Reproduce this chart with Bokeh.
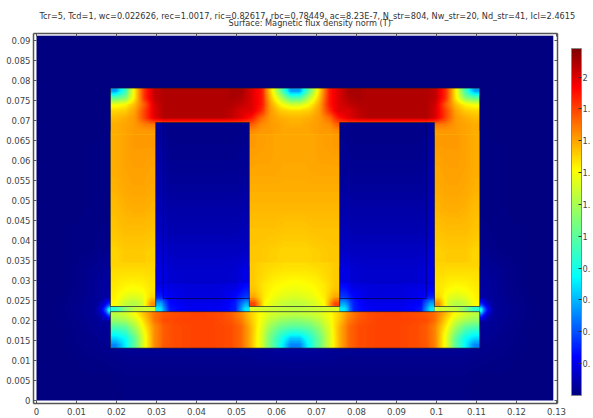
import numpy as np
from bokeh.plotting import figure
from bokeh.models import LinearAxis, FixedTicker, LinearColorMapper, ColorBar, Title, CustomLabelingPolicy
from bokeh.embed import file_html
from bokeh.resources import INLINE

title_1 = "Tcr=5, Tcd=1, wc=0.022626, rec=1.0017, ric=0.82617, rbc=0.78449, ac=8.23E-7, N_str=804, Nw_str=20, Nd_str=41, Icl=2.4615"
title_2 = "Surface: Magnetic flux density norm (T)"

x_ticks = [0, 0.01, 0.02, 0.03, 0.04, 0.05, 0.06, 0.07, 0.08, 0.09, 0.1, 0.11, 0.12, 0.13]
x_tick_labels = ["0", "0.01", "0.02", "0.03", "0.04", "0.05", "0.06", "0.07", "0.08", "0.09", "0.1", "0.11", "0.12", "0.13"]
y_ticks = [0, 0.005, 0.01, 0.015, 0.02, 0.025, 0.03, 0.035, 0.04, 0.045, 0.05, 0.055, 0.06, 0.065, 0.07, 0.075, 0.08, 0.085, 0.09]
y_tick_labels = ["0", "0.005", "0.01", "0.015", "0.02", "0.025", "0.03", "0.035", "0.04", "0.045", "0.05", "0.055", "0.06", "0.065", "0.07", "0.075", "0.08", "0.085", "0.09"]
cb_ticks = [0.2, 0.4, 0.6, 0.8, 1.0, 1.2, 1.4, 1.6, 1.8, 2.0]
cb_labels = ["0.", "0.", "0.", "0.", "1", "1.", "1.", "1.", "1.", "2"]
B_max = 2.18

# core geometry (metres)
core_left, core_right = 0.0185, 0.1108
core_top, core_bottom = 0.0781, 0.0131
window_top, leg_bottom, yoke_top = 0.0695, 0.0235, 0.0222
leg_l_right, center_left, center_right, leg_r_left = 0.0298, 0.0532, 0.0758, 0.0995
coil_l, coil_r, coil_bottom = 0.0317, 0.0974, 0.0255
field_left, field_right, field_top, field_bottom = 0.0, 0.1292, 0.0912, 0.0

# flux density (T), left half of the core, top row first
top_yoke = [
    [.55, .90, 1.45, 1.85, 2.05, 2.08, 2.08, 2.08, 2.08, 2.08, 2.08, 2.08, 2.10, 2.10, 2.00, 1.90, 1.50, 1.05, .55],
    [1.00, 1.10, 1.45, 1.85, 2.05, 2.08, 2.08, 2.08, 2.08, 2.08, 2.08, 2.08, 2.10, 2.08, 2.00, 1.90, 1.55, 1.25, .95],
    [1.38, 1.42, 1.55, 1.75, 2.02, 2.08, 2.08, 2.08, 2.08, 2.08, 2.08, 2.08, 2.08, 2.05, 2.00, 1.90, 1.60, 1.42, 1.30],
    [1.50, 1.52, 1.60, 1.80, 2.00, 2.08, 2.08, 2.08, 2.08, 2.08, 2.08, 2.08, 2.06, 2.00, 2.00, 1.85, 1.62, 1.52, 1.50],
    [1.55, 1.58, 1.62, 1.80, 2.00, 2.08, 2.08, 2.08, 2.08, 2.08, 2.08, 2.08, 2.05, 2.00, 1.90, 1.72, 1.62, 1.58, 1.56],
    [1.58, 1.60, 1.62, 1.68, 1.70, 1.70, 1.70, 1.70, 1.70, 1.70, 1.70, 1.70, 1.72, 1.74, 1.75, 1.65, 1.62, 1.60, 1.58],
    [1.58, 1.60, 1.62, 1.62, 1.62, 1.62, 1.62, 1.62, 1.62, 1.62, 1.62, 1.62, 1.62, 1.62, 1.65, 1.62, 1.62, 1.60, 1.60],
]
outer_leg_upper = [
    [1.58, 1.60, 1.62, 1.62, 1.62],
    [1.58, 1.60, 1.61, 1.61, 1.60],
    [1.57, 1.59, 1.60, 1.60, 1.59],
    [1.55, 1.57, 1.58, 1.58, 1.57],
    [1.53, 1.55, 1.55, 1.55, 1.54],
    [1.50, 1.52, 1.52, 1.52, 1.51],
]
outer_leg_lower = [
    [1.50, 1.50, 1.50, 1.50, 1.50],
    [1.48, 1.48, 1.48, 1.48, 1.49],
    [1.47, 1.46, 1.46, 1.46, 1.48],
    [1.46, 1.44, 1.43, 1.44, 1.47],
    [1.45, 1.41, 1.39, 1.41, 1.47],
    [1.44, 1.36, 1.32, 1.36, 1.50],
    [1.42, 1.28, 1.22, 1.30, 1.65],
]
center_leg_upper = [
    [1.62, 1.61, 1.60, 1.60, 1.60, 1.60, 1.60, 1.61, 1.62],
    [1.60, 1.60, 1.60, 1.59, 1.59, 1.59, 1.60, 1.60, 1.60],
    [1.58, 1.58, 1.58, 1.58, 1.58, 1.58, 1.58, 1.58, 1.58],
    [1.56, 1.56, 1.56, 1.56, 1.56, 1.56, 1.56, 1.56, 1.56],
    [1.54, 1.54, 1.54, 1.53, 1.53, 1.53, 1.54, 1.54, 1.54],
    [1.53, 1.52, 1.51, 1.50, 1.50, 1.50, 1.51, 1.52, 1.53],
]
center_leg_lower = [
    [1.52, 1.50, 1.49, 1.48, 1.48, 1.48, 1.49, 1.50, 1.52],
    [1.52, 1.49, 1.47, 1.46, 1.46, 1.46, 1.47, 1.49, 1.52],
    [1.52, 1.48, 1.45, 1.44, 1.43, 1.44, 1.45, 1.48, 1.52],
    [1.52, 1.46, 1.43, 1.41, 1.40, 1.41, 1.43, 1.46, 1.52],
    [1.54, 1.46, 1.41, 1.38, 1.37, 1.38, 1.41, 1.46, 1.54],
    [1.60, 1.45, 1.38, 1.34, 1.32, 1.34, 1.38, 1.45, 1.60],
    [1.80, 1.42, 1.32, 1.27, 1.25, 1.27, 1.32, 1.42, 1.80],
]
bottom_yoke = [
    [1.25, 1.30, 1.40, 1.55, 1.70, 1.76, 1.78, 1.79, 1.80, 1.80, 1.79, 1.78, 1.74, 1.65, 1.50, 1.40, 1.32, 1.28, 1.26],
    [1.15, 1.20, 1.30, 1.50, 1.70, 1.78, 1.79, 1.80, 1.80, 1.80, 1.80, 1.78, 1.76, 1.68, 1.52, 1.38, 1.25, 1.17, 1.13],
    [.98, 1.02, 1.20, 1.45, 1.65, 1.75, 1.78, 1.79, 1.80, 1.80, 1.80, 1.79, 1.78, 1.72, 1.55, 1.35, 1.17, 1.05, 1.00],
    [.80, .88, 1.10, 1.40, 1.65, 1.75, 1.78, 1.79, 1.80, 1.80, 1.80, 1.79, 1.78, 1.72, 1.55, 1.33, 1.10, .92, .82],
    [.65, .75, 1.00, 1.38, 1.65, 1.75, 1.78, 1.79, 1.80, 1.80, 1.80, 1.79, 1.78, 1.72, 1.55, 1.32, 1.05, .82, .62],
    [.50, .72, 1.00, 1.38, 1.65, 1.76, 1.78, 1.79, 1.80, 1.80, 1.80, 1.79, 1.78, 1.72, 1.55, 1.32, 1.05, .78, .50],
]
gap_left = [[.85, 1.10, 1.25, 1.28, 1.30]]
gap_center = [[1.32, 1.30, 1.28, 1.26, 1.25, 1.26, 1.28, 1.30, 1.32]]
window_upper = [
    [.06, .02, .02, .02, .02, .02, .02, .02, .02, .03],
    [.08, .03, .03, .03, .03, .03, .03, .03, .03, .04],
    [.09, .04, .04, .04, .04, .04, .04, .04, .04, .05],
    [.10, .06, .06, .06, .06, .06, .06, .06, .06, .07],
    [.12, .08, .08, .08, .08, .08, .08, .08, .08, .09],
    [.14, .10, .10, .10, .10, .10, .10, .10, .10, .11],
    [.17, .13, .13, .13, .13, .13, .13, .13, .13, .14],
    [.20, .16, .15, .15, .15, .15, .15, .15, .16, .20],
]
window_lower = [
    [.20, .18, .18, .17, .17, .17, .17, .18, .18, .25],
    [.25, .20, .20, .18, .18, .18, .18, .20, .22, .30],
    [.30, .22, .20, .18, .18, .18, .18, .20, .25, .35],
    [.55, .25, .22, .20, .20, .20, .20, .22, .30, .55],
    [.70, .28, .24, .22, .22, .22, .22, .24, .30, .70],
]
air_outside = [
    [0, 0, 0, 0, 0, 0, 0, 0, 0, 0, 0, 0, 0],
    [0, 0, 0, 0, 0, 0, 0, 0, 0, 0, 0, 0, 0],
    [0, 0, 0, 0, 0, 0, 0, 0, 0, 0, 0, 0, 0],
    [0, 0, 0, .01, .01, .01, .01, .01, .01, .01, .01, .01, .01],
    [0, 0, 0, .01, .01, .01, .01, .01, .01, .01, .01, .01, .01],
    [0, 0, .01, .01, .01, .01, .01, .01, .01, .01, .01, .01, .01],
    [0, 0, .01, .01, .01, .01, .01, .01, .01, .01, .01, .01, .01],
    [0, 0, .01, .01, .01, .01, .01, .01, .01, .01, .01, .01, .01],
    [0, 0, .01, .01, .01, .01, .01, .01, .01, .01, .01, .01, .01],
    [0, .01, .01, .02, .02, .02, .02, .02, .02, .02, .02, .02, .02],
    [0, .01, .01, .03, .03, .03, .03, .03, .03, .03, .03, .03, .03],
    [0, .01, .03, .05, .05, .05, .05, .05, .05, .05, .05, .05, .05],
    [0, .01, .03, .07, .07, .07, .07, .07, .07, .07, .07, .07, .07],
    [0, .02, .04, .07, .07, .07, .07, .07, .07, .07, .07, .07, .07],
    [0, .01, .03, .05, .06, .06, .06, .06, .06, .06, .06, .06, .06],
    [0, .01, .02, .03, .04, .04, .04, .04, .04, .04, .04, .05, .06],
    [0, 0, .01, .01, .02, .02, .02, .02, .02, .02, .02, .02, .02],
    [0, 0, 0, 0, .01, .01, .01, .01, .01, .01, .01, .01, .01],
]
fringe_spot = [
    [.05, .07, .10, .14, .20],
    [.07, .10, .15, .22, .30],
    [.08, .14, .22, .35, .50],
    [.10, .18, .30, .50, .85],
    [.08, .14, .22, .40, .65],
    [.07, .10, .15, .22, .35],
    [.05, .07, .10, .14, .20],
]

# jet-type ramp of the colour bar
stops = np.array([0, .11, .34, .5, .65, .89, 1.0])
reds = [0, 0, 0, 124, 255, 255, 128]
greens = [0, 0, 255, 255, 255, 0, 0]
blues = [128, 255, 255, 124, 0, 0, 0]
t = np.linspace(0, 1, 256)
palette = ["#%02x%02x%02x" % (int(r), int(g), int(b)) for r, g, b in
           zip(np.interp(t, stops, reds), np.interp(t, stops, greens), np.interp(t, stops, blues))]
mapper = LinearColorMapper(palette=palette, low=0, high=B_max)

p = figure(width=593, height=418, output_backend="svg", toolbar_location=None,
           x_range=(-0.00075, 0.13025), y_range=(-0.00075, 0.09175),
           min_border_left=33, min_border_right=36, min_border_top=33, min_border_bottom=15,
           background_fill_color="white", border_fill_color="white",
           outline_line_color=None, margin=(0, 0, 0, 0))
p.grid.visible = False

def shaded(rows, k=10):
    """Gouraud-style display shading of a grid of read values: each read value stays
    at its cell centre and the k display pixels per cell blend linearly between them."""
    a = np.array(rows, dtype=float)
    ny, nx = a.shape
    px = (np.arange(nx * k) + 0.5) / k - 0.5
    py = (np.arange(ny * k) + 0.5) / k - 0.5
    a = np.array([np.interp(px, np.arange(nx), row) for row in a])
    a = np.array([np.interp(py, np.arange(ny), col) for col in a.T]).T
    return a

def field(rows, xa, xb, yt, yb):
    p.image(image=[shaded(rows)[::-1]], x=[xa], y=[yb], dw=[xb - xa], dh=[yt - yb], color_mapper=mapper)

def mirrored(rows):
    a = np.array(rows, dtype=float)
    return np.hstack([a, a[:, ::-1]])

split_a = 0.0665   # y where the top block meets the leg grids
split_b = 0.0345   # y where the coarse leg grid meets the fine one

field(mirrored(air_outside), field_left, field_right, field_top, field_bottom)
field(fringe_spot, 0.0150, core_left, 0.0255, 0.0200)
field(np.array(fringe_spot)[:, ::-1], core_right, core_right + 0.0035, 0.0255, 0.0200)
# underlay so that no seam shows between the grids
p.quad(left=[core_left, center_left, leg_r_left], right=[leg_l_right, center_right, core_right],
       top=[split_a + 0.001] * 3, bottom=[split_b - 0.001] * 3,
       fill_color=palette[int(1.52 / B_max * 255)], line_color=None)
field(mirrored(top_yoke), core_left, core_right, core_top, split_a)
field(outer_leg_upper, core_left, leg_l_right, split_a, split_b)
field(outer_leg_lower, core_left, leg_l_right, split_b, leg_bottom)
field(np.array(outer_leg_upper)[:, ::-1], leg_r_left, core_right, split_a, split_b)
field(np.array(outer_leg_lower)[:, ::-1], leg_r_left, core_right, split_b, leg_bottom)
field(center_leg_upper, center_left, center_right, split_a, split_b)
field(center_leg_lower, center_left, center_right, split_b, leg_bottom)
field(window_upper, leg_l_right, center_left, window_top, 0.0295)
field(window_lower, leg_l_right, center_left, 0.0295, yoke_top)
field(np.array(window_upper)[:, ::-1], center_right, leg_r_left, window_top, 0.0295)
field(np.array(window_lower)[:, ::-1], center_right, leg_r_left, 0.0295, yoke_top)
field(gap_left, core_left, leg_l_right, leg_bottom, yoke_top)
field(np.array(gap_left)[:, ::-1], leg_r_left, core_right, leg_bottom, yoke_top)
field(gap_center, center_left, center_right, leg_bottom, yoke_top)
field(mirrored(bottom_yoke), core_left, core_right, yoke_top, core_bottom)

# core, gap and coil outlines
edge_xs = [
    [core_left, core_left, core_right, core_right, leg_r_left, leg_r_left, center_right, center_right, center_left, center_left, leg_l_right, leg_l_right, core_left],
    [core_left, core_right, core_right, core_left, core_left],
]
edge_ys = [
    [leg_bottom, core_top, core_top, leg_bottom, leg_bottom, window_top, window_top, leg_bottom, leg_bottom, window_top, window_top, leg_bottom, leg_bottom],
    [yoke_top, yoke_top, core_bottom, core_bottom, yoke_top],
]
p.multi_line(edge_xs, edge_ys, line_color="#202020", line_alpha=0.6, line_width=1)
p.multi_line([[coil_l, coil_l, center_left], [coil_r, coil_r, center_right]],
             [[window_top, coil_bottom, coil_bottom], [window_top, coil_bottom, coil_bottom]],
             line_color="#000040", line_alpha=0.7, line_width=1)

# axes
frame_col = "#555555"
text_col = "#444444"
font = "DejaVu Sans"
no_labels = CustomLabelingPolicy(code="for (const i of [...indices]) indices.unset(i); return indices;")
def style(ax, ticks, labels=None):
    ax.ticker = FixedTicker(ticks=ticks)
    ax.axis_line_color = frame_col
    ax.axis_line_width = 1.5
    ax.major_tick_line_color = frame_col
    ax.major_tick_in = 3
    ax.major_tick_out = 0
    ax.minor_tick_line_color = None
    ax.major_label_text_color = text_col
    ax.major_label_text_font = font
    if labels is None:
        ax.major_label_policy = no_labels
        ax.major_label_standoff = 0
    else:
        ax.major_label_overrides = dict(zip(ticks, labels))
        ax.major_label_text_font_size = "8.5px"

style(p.xaxis[0], x_ticks, x_tick_labels)
p.xaxis[0].major_label_standoff = 4
style(p.yaxis[0], y_ticks, y_tick_labels)
p.yaxis[0].major_label_standoff = 3
ax_top = LinearAxis()
style(ax_top, x_ticks)
p.add_layout(ax_top, "above")
ax_right = LinearAxis()
style(ax_right, y_ticks)
p.add_layout(ax_right, "right")

# titles: the one added first sits next to the frame; left-aligned with a pixel offset from the frame
for txt, gap, shift in ((title_2, -10, 195), (title_1, 0, 6)):
    p.add_layout(Title(text=txt, align="left", offset=shift, standoff=gap, text_font_size="8.2px",
                       text_font=font, text_font_style="normal", text_line_height=1.0,
                       text_color="#333333"), "above")

cb = ColorBar(color_mapper=mapper, ticker=FixedTicker(ticks=cb_ticks),
              major_label_overrides=dict(zip(cb_ticks, cb_labels)),
              location=(538, 8), width=10, height=347, padding=0,
              major_tick_line_color="#303030", major_tick_in=3, major_tick_out=0, minor_tick_line_color=None,
              bar_line_color="#888888", major_label_text_font_size="8.2px", major_label_text_font=font,
              major_label_text_color=text_col, label_standoff=1, background_fill_alpha=0, border_line_color=None)
p.add_layout(cb)

open("out.html", "w").write(file_html(p, INLINE))
